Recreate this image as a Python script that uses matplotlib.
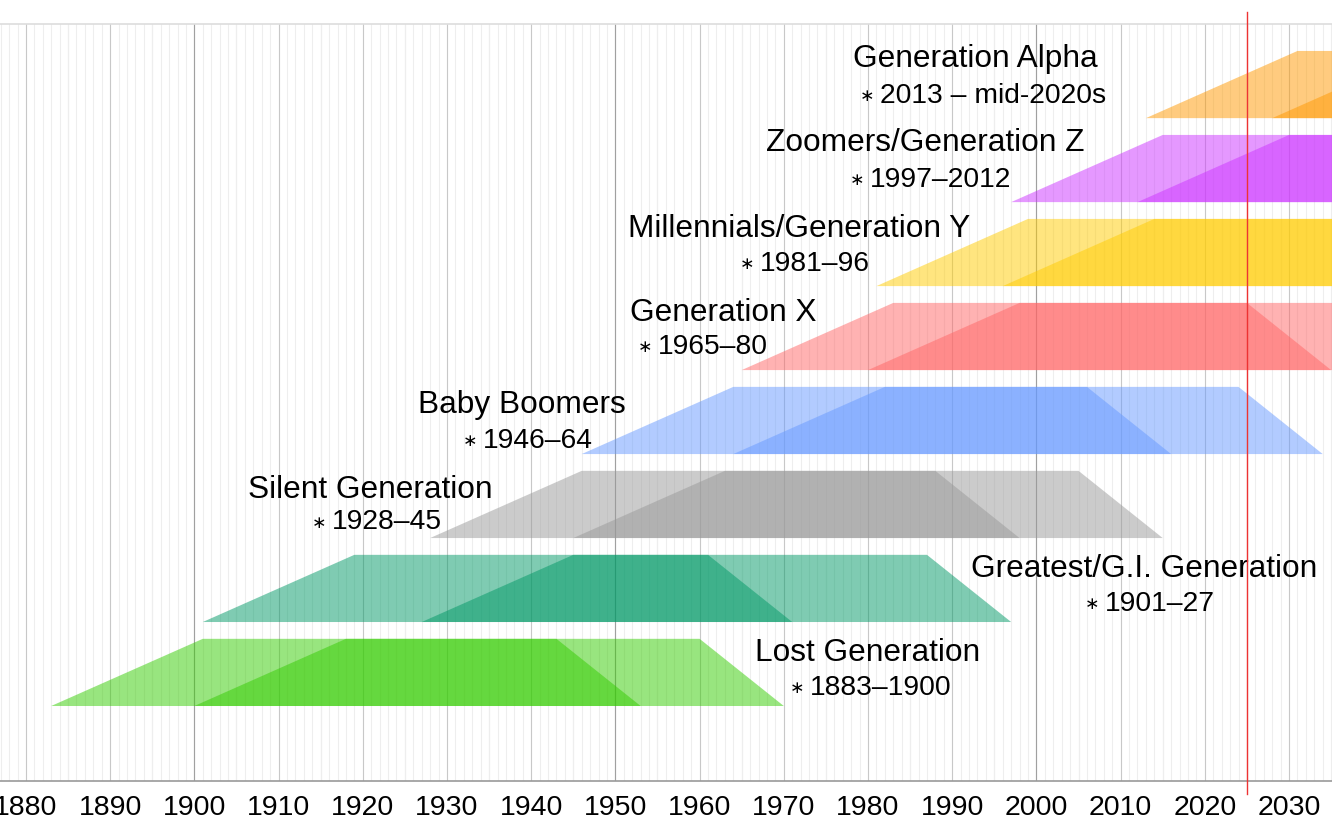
import numpy as np
import matplotlib.pyplot as plt
from matplotlib.patches import Polygon
from matplotlib.ticker import MultipleLocator

plt.rcParams['font.family'] = ['Liberation Sans', 'DejaVu Sans']

# -----------------------------
#  Generations (birth years)
# -----------------------------
names = ['Lost Generation', 'Greatest/G.I. Generation', 'Silent Generation',
         'Baby Boomers', 'Generation X', 'Millennials/Generation Y',
         'Zoomers/Generation Z', 'Generation Alpha']
born_from = [1883, 1901, 1928, 1946, 1965, 1981, 1997, 2013]
born_to   = [1900, 1927, 1945, 1964, 1980, 1996, 2012, 2028]
periods   = ['1883–1900', '1901–27', '1928–45', '1946–64', '1965–80',
             '1981–96', '1997–2012', '2013 – mid-2020s']
colors    = ['#33cc00', '#009966', '#999999', '#6699ff', '#ff6666',
             '#ffcc00', '#cc33ff', '#ff9900']

# ages that shape each band: 0 -> adult -> retired -> end of life
age_adult, age_retire, age_end = 18, 60, 70
current_year = 2025

# label positions (year, row units) - layout only
title_x = [1979.9, 2012.8, 1920.9, 1938.9, 1962.8, 1971.8, 1986.8, 1992.8]
title_y = [0.536, 1.539, 2.473, 3.485, 4.587, 5.587, 6.607, 7.604]
sub_x   = [1970.74, 2005.78, 1913.94, 1931.87, 1952.69, 1964.81, 1977.87, 1979.06]
sub_y   = [0.131, 1.131, 2.104, 3.075, 4.190, 5.182, 6.182, 7.182]
star_gap = 2.35   # years between asterisk and the dates

band_h = 0.8

fig = plt.figure(figsize=(13.32, 8.34), dpi=100)
ax = fig.add_axes([0, 53 / 834, 1, 757 / 834])
ax.set_xlim(1876.92, 2035.1)
ax.set_ylim(-0.893, 8.121)

# grid: yearly, 5-yearly, 10-yearly, 50-yearly
ax.xaxis.set_major_locator(MultipleLocator(10))
ax.xaxis.set_minor_locator(MultipleLocator(1))
ax.grid(which='minor', axis='x', color='#eeeeee', linewidth=0.8, zorder=0)
ax.grid(which='major', axis='x', color='#c8c8c8', linewidth=0.8, zorder=0)
ax.vlines(np.arange(1880, 2036, 10) - 5, -0.893, 8.121, color='#dddddd', linewidth=0.8, zorder=0.5)
ax.vlines([1900, 1950, 2000], -0.893, 8.121, color='#a0a0a0', linewidth=0.8, zorder=0.6)
ax.set_axisbelow(True)

for i in range(len(names)):
    for y0 in (born_from[i], born_to[i]):
        pts = [(y0, i), (y0 + age_adult, i + band_h),
               (y0 + age_retire, i + band_h), (y0 + age_end, i)]
        ax.add_patch(Polygon(pts, closed=True, facecolor=colors[i],
                             edgecolor='none', alpha=0.5, zorder=2))
    ax.text(title_x[i], title_y[i], names[i], fontsize=22.8, ha='center',
            va='baseline', zorder=4)
    ax.text(sub_x[i], sub_y[i] + 0.02, '∗', fontsize=12.5, ha='left',
            va='baseline', family='DejaVu Sans', zorder=4)
    ax.text(sub_x[i] + star_gap, sub_y[i], periods[i], fontsize=20.3, ha='left',
            va='baseline', zorder=4)

ax.axvline(current_year, ymin=-0.017, ymax=1.016, color='#ee3333',
           linewidth=1.0, clip_on=False, zorder=5)

ax.set_yticks([])
for s in ['left', 'right']:
    ax.spines[s].set_visible(False)
ax.spines['bottom'].set_color('#999999')
ax.spines['bottom'].set_linewidth(1.2)
ax.spines['top'].set_color('#dddddd')
ax.spines['top'].set_linewidth(1.2)
ax.tick_params(axis='x', which='both', length=0, labelsize=20.5, pad=10)

fig.savefig('out.png', dpi=100)
